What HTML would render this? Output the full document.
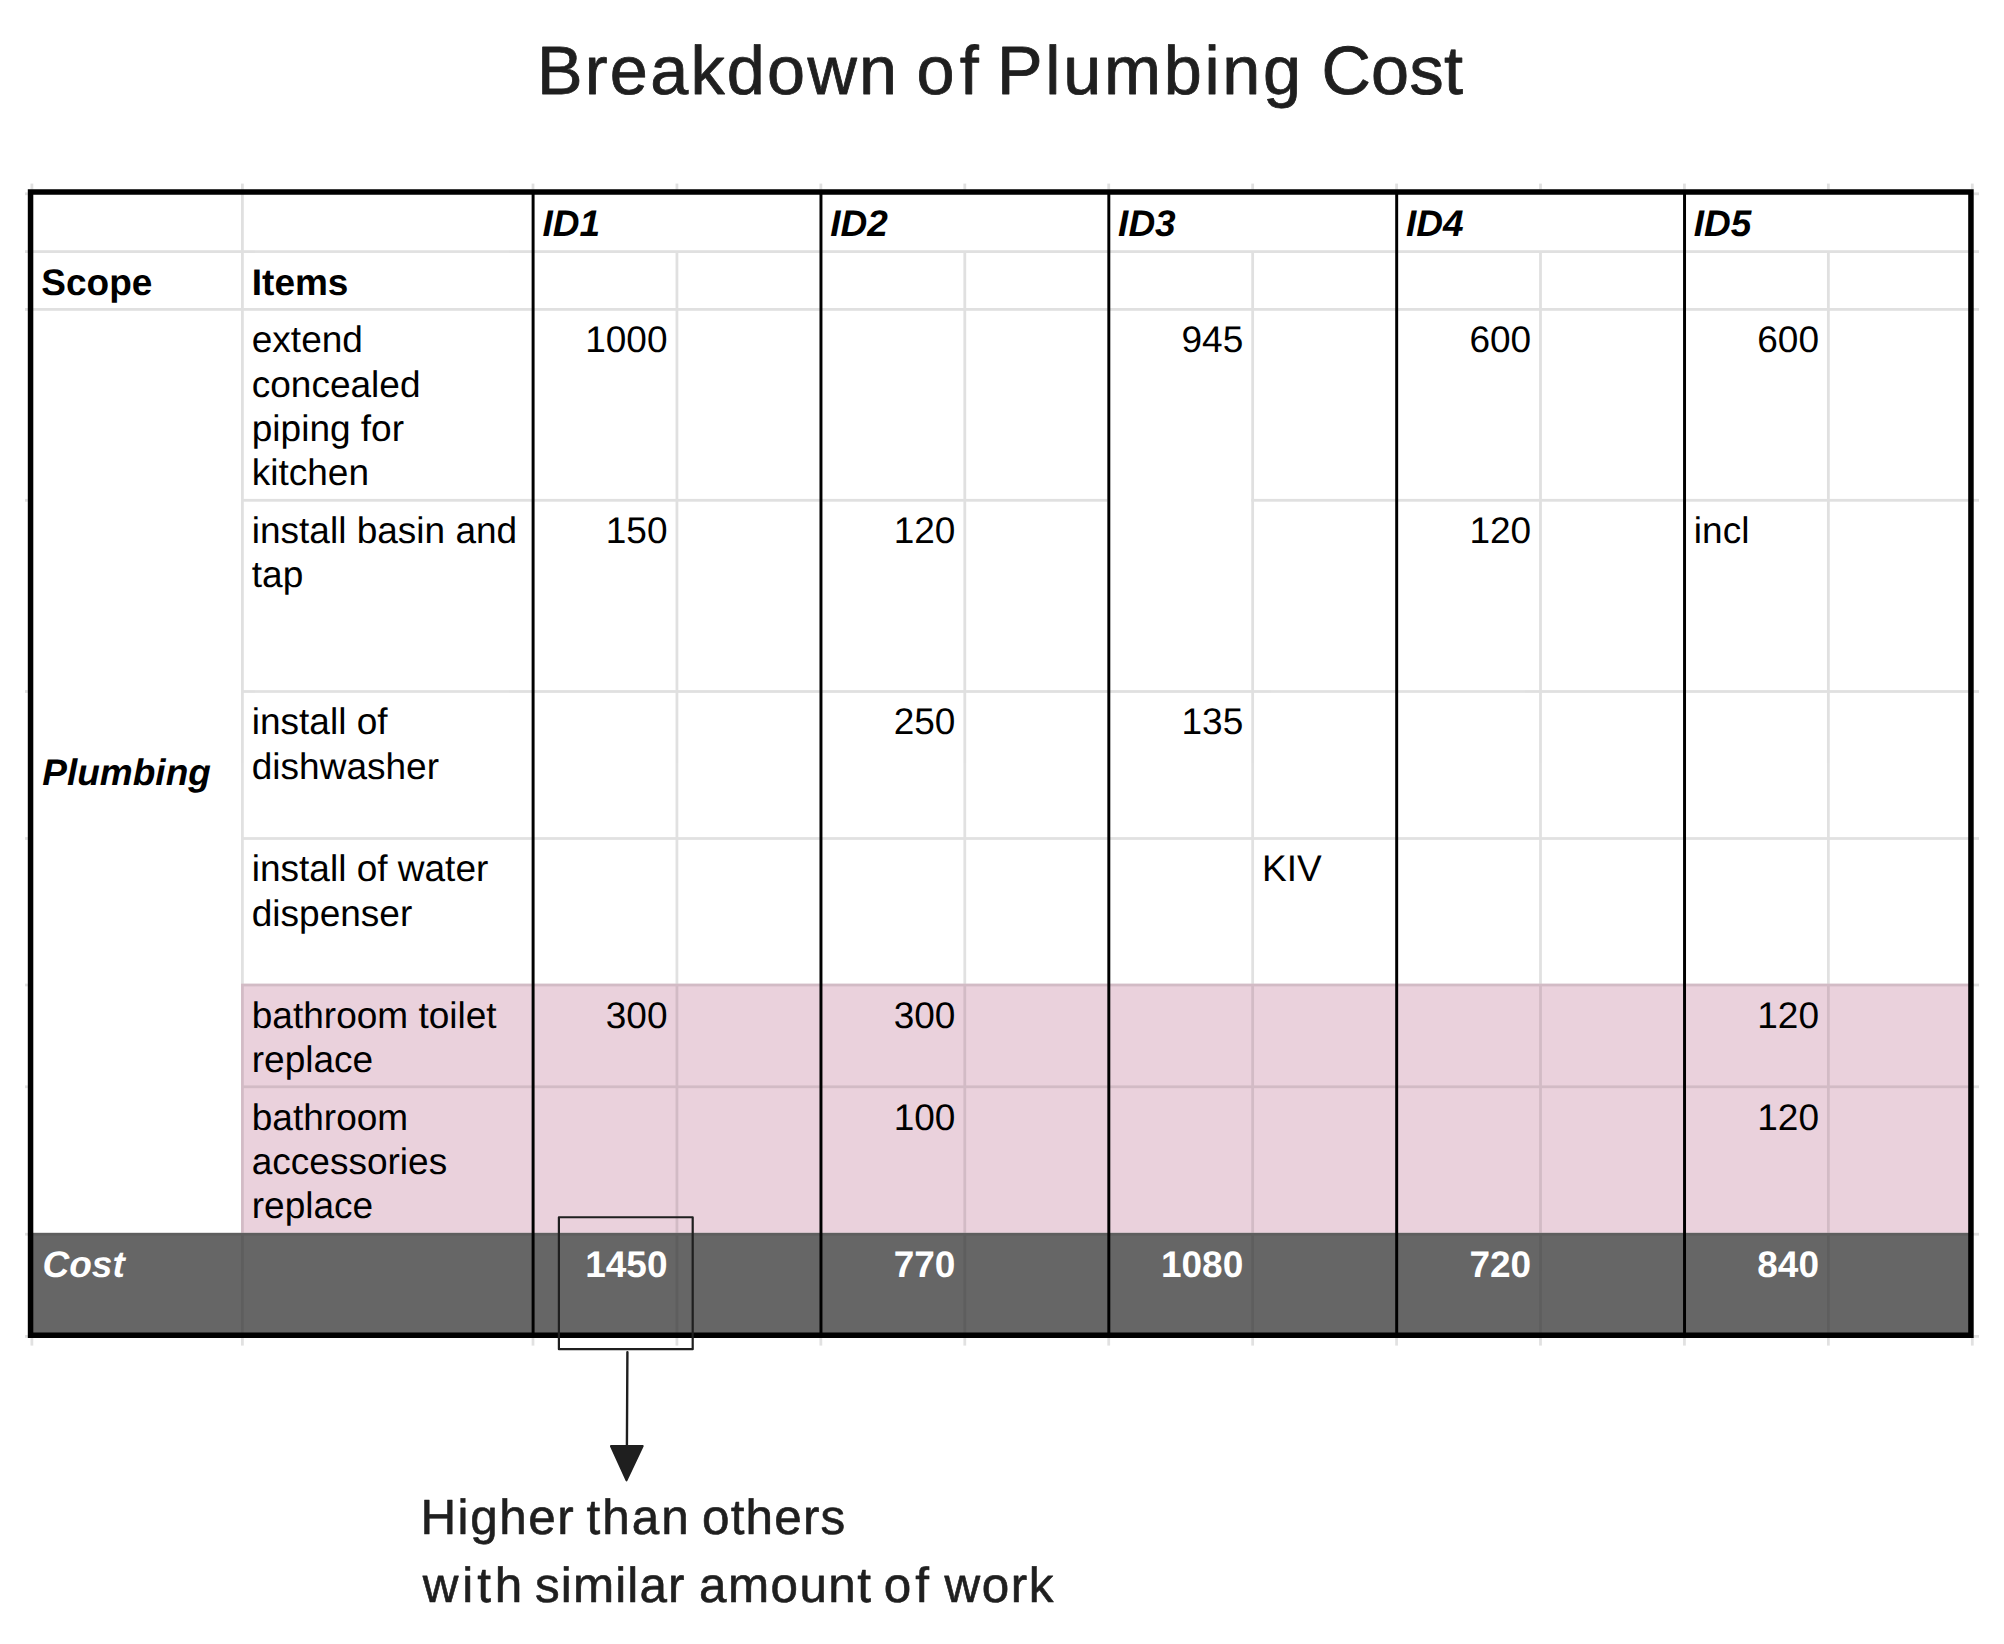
<!DOCTYPE html>
<html lang="en"><head><meta charset="utf-8"><title>Breakdown of Plumbing Cost</title>
<style>html,body{margin:0;padding:0;background:#fff}body{width:2004px;height:1644px;overflow:hidden}svg{display:block}text{font-family:"Liberation Sans",Arial,sans-serif;text-rendering:geometricPrecision}.c{font-size:37.0px;fill:#000}.b{font-weight:bold}.i{font-style:italic}.w{fill:#fff}.n{fill:#1f1f1f;stroke:#1f1f1f;stroke-width:0.8px;stroke-linejoin:round}.a{stroke-width:0.6px}</style></head><body>
<svg width="2004" height="1644" viewBox="0 0 2004 1644">
<rect width="2004" height="1644" fill="#fff"/>
<rect x="241.02" y="983.62" width="1729.9" height="249.2" fill="#ead1dc"/>
<rect x="30.52" y="1232.82" width="1940.4" height="102.2" fill="#666"/>
<defs><clipPath id="cw"><path clip-rule="evenodd" d="M0 0H2004 V1644 H0Z M241.02 983.62H1970.92V1232.82H241.02Z M30.52 1232.82H1970.92V1336.4H30.52Z"/></clipPath>
<clipPath id="cp"><rect x="241.02" y="983.62" width="1729.9" height="249.2"/></clipPath>
<clipPath id="cg"><rect x="30.52" y="1232.82" width="1940.4" height="103.58"/></clipPath></defs>
<g clip-path="url(#cw)"><g fill="#000" opacity="0.118">
<rect x="25" y="192.42" width="2.8" height="2.76"/>
<rect x="1973.7" y="192.42" width="5.3" height="2.76"/>
<rect x="25" y="1335.02" width="2.8" height="2.76"/>
<rect x="1973.7" y="1335.02" width="5.3" height="2.76"/>
<rect x="25" y="250.22" width="1954" height="2.76"/>
<rect x="25" y="308.02" width="1954" height="2.76"/>
<rect x="25" y="498.92" width="2.8" height="2.76"/>
<rect x="241.02" y="498.92" width="866.32" height="2.76"/>
<rect x="1251.27" y="498.92" width="727.73" height="2.76"/>
<rect x="25" y="690.12" width="2.8" height="2.76"/>
<rect x="241.02" y="690.12" width="1737.98" height="2.76"/>
<rect x="25" y="837.12" width="2.8" height="2.76"/>
<rect x="241.02" y="837.12" width="1737.98" height="2.76"/>
<rect x="25" y="983.62" width="2.8" height="2.76"/>
<rect x="241.02" y="983.62" width="1737.98" height="2.76"/>
<rect x="25" y="1085.42" width="2.8" height="2.76"/>
<rect x="241.02" y="1085.42" width="1737.98" height="2.76"/>
<rect x="25" y="1232.82" width="1954" height="2.76"/>
<rect x="30.52" y="183.6" width="2.76" height="6.1"/>
<rect x="30.52" y="1337.8" width="2.76" height="7.8"/>
<rect x="1970.92" y="183.6" width="2.76" height="6.1"/>
<rect x="1970.92" y="1337.8" width="2.76" height="7.8"/>
<rect x="241.02" y="183.6" width="2.76" height="1162"/>
<rect x="531.62" y="183.6" width="2.76" height="6.1"/>
<rect x="531.62" y="1337.8" width="2.76" height="7.8"/>
<rect x="819.48" y="183.6" width="2.76" height="6.1"/>
<rect x="819.48" y="1337.8" width="2.76" height="7.8"/>
<rect x="1107.34" y="183.6" width="2.76" height="6.1"/>
<rect x="1107.34" y="1337.8" width="2.76" height="7.8"/>
<rect x="1395.2" y="183.6" width="2.76" height="6.1"/>
<rect x="1395.2" y="1337.8" width="2.76" height="7.8"/>
<rect x="1683.06" y="183.6" width="2.76" height="6.1"/>
<rect x="1683.06" y="1337.8" width="2.76" height="7.8"/>
<rect x="675.55" y="183.6" width="2.76" height="6.1"/>
<rect x="675.55" y="252.98" width="2.76" height="1092.62"/>
<rect x="963.41" y="183.6" width="2.76" height="6.1"/>
<rect x="963.41" y="252.98" width="2.76" height="1092.62"/>
<rect x="1251.27" y="183.6" width="2.76" height="6.1"/>
<rect x="1251.27" y="252.98" width="2.76" height="1092.62"/>
<rect x="1539.13" y="183.6" width="2.76" height="6.1"/>
<rect x="1539.13" y="252.98" width="2.76" height="1092.62"/>
<rect x="1826.99" y="183.6" width="2.76" height="6.1"/>
<rect x="1826.99" y="252.98" width="2.76" height="1092.62"/>
</g></g>
<g clip-path="url(#cp)"><g fill="#000" opacity="0.1">
<rect x="25" y="192.42" width="2.8" height="2.76"/>
<rect x="1973.7" y="192.42" width="5.3" height="2.76"/>
<rect x="25" y="1335.02" width="2.8" height="2.76"/>
<rect x="1973.7" y="1335.02" width="5.3" height="2.76"/>
<rect x="25" y="250.22" width="1954" height="2.76"/>
<rect x="25" y="308.02" width="1954" height="2.76"/>
<rect x="25" y="498.92" width="2.8" height="2.76"/>
<rect x="241.02" y="498.92" width="866.32" height="2.76"/>
<rect x="1251.27" y="498.92" width="727.73" height="2.76"/>
<rect x="25" y="690.12" width="2.8" height="2.76"/>
<rect x="241.02" y="690.12" width="1737.98" height="2.76"/>
<rect x="25" y="837.12" width="2.8" height="2.76"/>
<rect x="241.02" y="837.12" width="1737.98" height="2.76"/>
<rect x="25" y="983.62" width="2.8" height="2.76"/>
<rect x="241.02" y="983.62" width="1737.98" height="2.76"/>
<rect x="25" y="1085.42" width="2.8" height="2.76"/>
<rect x="241.02" y="1085.42" width="1737.98" height="2.76"/>
<rect x="25" y="1232.82" width="1954" height="2.76"/>
<rect x="30.52" y="183.6" width="2.76" height="6.1"/>
<rect x="30.52" y="1337.8" width="2.76" height="7.8"/>
<rect x="1970.92" y="183.6" width="2.76" height="6.1"/>
<rect x="1970.92" y="1337.8" width="2.76" height="7.8"/>
<rect x="241.02" y="183.6" width="2.76" height="1162"/>
<rect x="531.62" y="183.6" width="2.76" height="6.1"/>
<rect x="531.62" y="1337.8" width="2.76" height="7.8"/>
<rect x="819.48" y="183.6" width="2.76" height="6.1"/>
<rect x="819.48" y="1337.8" width="2.76" height="7.8"/>
<rect x="1107.34" y="183.6" width="2.76" height="6.1"/>
<rect x="1107.34" y="1337.8" width="2.76" height="7.8"/>
<rect x="1395.2" y="183.6" width="2.76" height="6.1"/>
<rect x="1395.2" y="1337.8" width="2.76" height="7.8"/>
<rect x="1683.06" y="183.6" width="2.76" height="6.1"/>
<rect x="1683.06" y="1337.8" width="2.76" height="7.8"/>
<rect x="675.55" y="183.6" width="2.76" height="6.1"/>
<rect x="675.55" y="252.98" width="2.76" height="1092.62"/>
<rect x="963.41" y="183.6" width="2.76" height="6.1"/>
<rect x="963.41" y="252.98" width="2.76" height="1092.62"/>
<rect x="1251.27" y="183.6" width="2.76" height="6.1"/>
<rect x="1251.27" y="252.98" width="2.76" height="1092.62"/>
<rect x="1539.13" y="183.6" width="2.76" height="6.1"/>
<rect x="1539.13" y="252.98" width="2.76" height="1092.62"/>
<rect x="1826.99" y="183.6" width="2.76" height="6.1"/>
<rect x="1826.99" y="252.98" width="2.76" height="1092.62"/>
</g></g>
<g clip-path="url(#cg)"><g fill="#000" opacity="0.08">
<rect x="25" y="192.42" width="2.8" height="2.76"/>
<rect x="1973.7" y="192.42" width="5.3" height="2.76"/>
<rect x="25" y="1335.02" width="2.8" height="2.76"/>
<rect x="1973.7" y="1335.02" width="5.3" height="2.76"/>
<rect x="25" y="250.22" width="1954" height="2.76"/>
<rect x="25" y="308.02" width="1954" height="2.76"/>
<rect x="25" y="498.92" width="2.8" height="2.76"/>
<rect x="241.02" y="498.92" width="866.32" height="2.76"/>
<rect x="1251.27" y="498.92" width="727.73" height="2.76"/>
<rect x="25" y="690.12" width="2.8" height="2.76"/>
<rect x="241.02" y="690.12" width="1737.98" height="2.76"/>
<rect x="25" y="837.12" width="2.8" height="2.76"/>
<rect x="241.02" y="837.12" width="1737.98" height="2.76"/>
<rect x="25" y="983.62" width="2.8" height="2.76"/>
<rect x="241.02" y="983.62" width="1737.98" height="2.76"/>
<rect x="25" y="1085.42" width="2.8" height="2.76"/>
<rect x="241.02" y="1085.42" width="1737.98" height="2.76"/>
<rect x="25" y="1232.82" width="1954" height="2.76"/>
<rect x="30.52" y="183.6" width="2.76" height="6.1"/>
<rect x="30.52" y="1337.8" width="2.76" height="7.8"/>
<rect x="1970.92" y="183.6" width="2.76" height="6.1"/>
<rect x="1970.92" y="1337.8" width="2.76" height="7.8"/>
<rect x="241.02" y="183.6" width="2.76" height="1162"/>
<rect x="531.62" y="183.6" width="2.76" height="6.1"/>
<rect x="531.62" y="1337.8" width="2.76" height="7.8"/>
<rect x="819.48" y="183.6" width="2.76" height="6.1"/>
<rect x="819.48" y="1337.8" width="2.76" height="7.8"/>
<rect x="1107.34" y="183.6" width="2.76" height="6.1"/>
<rect x="1107.34" y="1337.8" width="2.76" height="7.8"/>
<rect x="1395.2" y="183.6" width="2.76" height="6.1"/>
<rect x="1395.2" y="1337.8" width="2.76" height="7.8"/>
<rect x="1683.06" y="183.6" width="2.76" height="6.1"/>
<rect x="1683.06" y="1337.8" width="2.76" height="7.8"/>
<rect x="675.55" y="183.6" width="2.76" height="6.1"/>
<rect x="675.55" y="252.98" width="2.76" height="1092.62"/>
<rect x="963.41" y="183.6" width="2.76" height="6.1"/>
<rect x="963.41" y="252.98" width="2.76" height="1092.62"/>
<rect x="1251.27" y="183.6" width="2.76" height="6.1"/>
<rect x="1251.27" y="252.98" width="2.76" height="1092.62"/>
<rect x="1539.13" y="183.6" width="2.76" height="6.1"/>
<rect x="1539.13" y="252.98" width="2.76" height="1092.62"/>
<rect x="1826.99" y="183.6" width="2.76" height="6.1"/>
<rect x="1826.99" y="252.98" width="2.76" height="1092.62"/>
</g></g>
<g fill="#000">
<rect x="531.62" y="193.8" width="2.96" height="1142.6"/>
<rect x="819.48" y="193.8" width="2.96" height="1142.6"/>
<rect x="1107.34" y="193.8" width="2.96" height="1142.6"/>
<rect x="1395.2" y="193.8" width="2.96" height="1142.6"/>
<rect x="1683.06" y="193.8" width="2.96" height="1142.6"/>
</g>
<path fill="#000" fill-rule="evenodd" d="M27.8 189.3H1973.7V1337.9H27.8ZM33.3 194.8H1968.2V1332.4H33.3Z"/>
<g transform="scale(1.0000 1)">
<text class="c b i" x="542.4" y="236.3">ID1</text>
<text class="c b i" x="830.26" y="236.3">ID2</text>
<text class="c b i" x="1118.12" y="236.3">ID3</text>
<text class="c b i" x="1405.98" y="236.3">ID4</text>
<text class="c b i" x="1693.84" y="236.3">ID5</text>
<text class="c b" x="41.3" y="294.5">Scope</text>
<text class="c b" x="251.8" y="294.5">Items</text>
<text class="c b i" x="42.3" y="784.6">Plumbing</text>
<text class="c" x="251.8" y="352.3">extend</text>
<text class="c" x="251.8" y="396.55">concealed</text>
<text class="c" x="251.8" y="440.8">piping for</text>
<text class="c" x="251.8" y="485.05">kitchen</text>
<text class="c" x="251.8" y="543.2">install basin and</text>
<text class="c" x="251.8" y="587.45">tap</text>
<text class="c" x="251.8" y="734.4">install of</text>
<text class="c" x="251.8" y="778.65">dishwasher</text>
<text class="c" x="251.8" y="881.4">install of water</text>
<text class="c" x="251.8" y="925.65">dispenser</text>
<text class="c" x="251.8" y="1027.9">bathroom toilet</text>
<text class="c" x="251.8" y="1072.15">replace</text>
<text class="c" x="251.8" y="1129.7">bathroom</text>
<text class="c" x="251.8" y="1173.95">accessories</text>
<text class="c" x="251.8" y="1218.2">replace</text>
<text class="c b i w" x="42.5" y="1277.1">Cost</text>
<text class="c" x="667.53" y="352.3" text-anchor="end">1000</text>
<text class="c" x="667.53" y="543.2" text-anchor="end">150</text>
<text class="c" x="667.53" y="1027.9" text-anchor="end">300</text>
<text class="c" x="955.39" y="543.2" text-anchor="end">120</text>
<text class="c" x="955.39" y="734.4" text-anchor="end">250</text>
<text class="c" x="955.39" y="1027.9" text-anchor="end">300</text>
<text class="c" x="955.39" y="1129.7" text-anchor="end">100</text>
<text class="c" x="1243.25" y="352.3" text-anchor="end">945</text>
<text class="c" x="1243.25" y="734.4" text-anchor="end">135</text>
<text class="c" x="1531.11" y="352.3" text-anchor="end">600</text>
<text class="c" x="1531.11" y="543.2" text-anchor="end">120</text>
<text class="c" x="1818.97" y="352.3" text-anchor="end">600</text>
<text class="c" x="1818.97" y="1027.9" text-anchor="end">120</text>
<text class="c" x="1818.97" y="1129.7" text-anchor="end">120</text>
<text class="c" x="1262.05" y="881.4">KIV</text>
<text class="c" x="1693.84" y="543.2">incl</text>
<text class="c b w" x="667.53" y="1277.1" text-anchor="end">1450</text>
<text class="c b w" x="955.39" y="1277.1" text-anchor="end">770</text>
<text class="c b w" x="1243.25" y="1277.1" text-anchor="end">1080</text>
<text class="c b w" x="1531.11" y="1277.1" text-anchor="end">720</text>
<text class="c b w" x="1818.97" y="1277.1" text-anchor="end">840</text>
</g>
<rect x="558.9" y="1217.25" width="133.8" height="131.95" fill="none" stroke="#1f1f1f" stroke-width="2.2" stroke-linejoin="round"/>
<path d="M627.4 1352.2L626.9 1447" fill="none" stroke="#1f1f1f" stroke-width="2.4" stroke-linecap="round"/>
<path d="M610.9 1446.1H642.7L626.5 1480.4Z" fill="#1f1f1f" stroke="#1f1f1f" stroke-width="2" stroke-linejoin="round"/>
<text class="n" font-size="68.4" y="94.4"><tspan x="537" textLength="360.05" lengthAdjust="spacing">Breakdown</tspan> <tspan x="916.6" textLength="62.14" lengthAdjust="spacing">of</tspan> <tspan x="997" textLength="304.17" lengthAdjust="spacing">Plumbing</tspan> <tspan x="1321.4" textLength="141.65" lengthAdjust="spacing">Cost</tspan></text>
<text class="n a" font-size="49.4" y="1534.3"><tspan x="420.4" textLength="153.21" lengthAdjust="spacing">Higher</tspan> <tspan x="586.4" textLength="102.26" lengthAdjust="spacing">than</tspan> <tspan x="702" textLength="143.26" lengthAdjust="spacing">others</tspan></text>
<text class="n a" font-size="49.4" y="1601.8"><tspan x="422.8" textLength="99.48" lengthAdjust="spacing">with</tspan> <tspan x="535" textLength="149.41" lengthAdjust="spacing">similar</tspan> <tspan x="699" textLength="171.97" lengthAdjust="spacing">amount</tspan> <tspan x="883.8" textLength="45.07" lengthAdjust="spacing">of</tspan> <tspan x="944.4" textLength="109.05" lengthAdjust="spacing">work</tspan></text>
</svg></body></html>
